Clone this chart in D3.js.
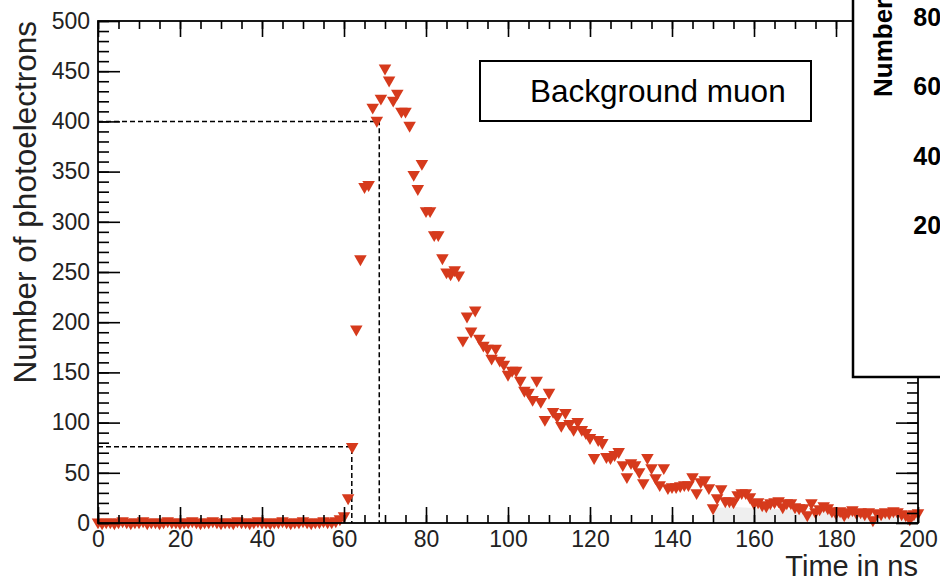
<!DOCTYPE html>
<html>
<head>
<meta charset="utf-8">
<script src="https://cdn.jsdelivr.net/npm/d3@7"></script>
<style>
  body { margin: 0; background: #fff; }
  svg { display: block; font-family: "Liberation Sans", Arial, Helvetica, sans-serif; }
</style>
</head>
<body>
<div id="chart"></div>
<script>
const FRAME_WIDTH = 940;
const FRAME_HEIGHT = 579;
const MARGINS = {left: 98, right: 22, top: 21, bottom: 56};
const VIS_WIDTH = FRAME_WIDTH - MARGINS.left - MARGINS.right;
const VIS_HEIGHT = FRAME_HEIGHT - MARGINS.top - MARGINS.bottom;

// one sample per ns, 0..200 ns
const TIMES = d3.range(0, 201);
const PE_COUNTS = [
  1, 0, 1, 1, 0, 1, 2, 1, 0, 1,
  1, 2, 0, 1, 1, 0, 1, 2, 1, 1,
  0, 1, 1, 2, 1, 0, 1, 1, 2, 1,
  0, 1, 1, 0, 2, 1, 1, 0, 1, 2,
  1, 1, 0, 1, 1, 2, 1, 0, 1, 1,
  2, 1, 0, 1, 1, 2, 1, 1, 2, 4,
  7, 25, 76, 193, 263, 335, 337, 414, 401, 423,
  453, 441, 421, 428, 410, 410, 396, 347, 333, 358,
  311, 311, 287, 287, 264, 250, 248, 252, 247, 182,
  206, 191, 212, 184, 177, 174, 164, 174, 162, 158,
  148, 152, 152, 142, 132, 130, 123, 142, 121, 103,
  130, 111, 106, 97, 110, 99, 93, 101, 93, 90,
  85, 65, 83, 80, 66, 65, 68, 71, 58, 46,
  60, 58, 51, 40, 65, 55, 45, 38, 55, 35,
  36, 36, 37, 38, 38, 46, 30, 41, 43, 35,
  15, 25, 34, 22, 22, 21, 28, 30, 30, 26,
  20, 21, 18, 17, 20, 21, 22, 16, 20, 20,
  16, 15, 15, 8, 20, 11, 14, 17, 15, 12,
  10, 12, 8, 11, 13, 10, 11, 9, 11, 3,
  10, 9, 11, 10, 12, 11, 9, 8, 4, 9,
  10
];

// light grey band under the tail
const BAND_TIMES = [150, 155, 160, 165, 170, 175, 180, 185, 190, 195, 200];
const BAND_VALUES = [15, 16, 15, 14, 13, 12, 12, 11, 10, 9, 9];

// dashed guide lines (time, level)
const CUT_TIMES = [61.9, 68.6];
const CUT_LEVELS = [76, 400];

const X_TICKS = d3.range(0, 201, 20);
const X_MINOR = d3.range(0, 201, 5);
const Y_TICKS = d3.range(0, 501, 50);
const Y_MINOR = d3.range(0, 501, 10);

const LEGEND_LABEL = "Background muon";
const X_TITLE = "Time in ns";
const Y_TITLE = "Number of photoelectrons";

// overlapping inset panel (cut off at the right edge)
const INSET_TICKS = [0, 200, 400, 600, 800];
const INSET_TITLE = "Number of events";

const MARKER_COLOR = "#d63a1c";

const FRAME = d3.select("#chart")
  .append("svg")
    .attr("width", FRAME_WIDTH)
    .attr("height", FRAME_HEIGHT);

const X_SCALE = d3.scaleLinear().domain([0, 200]).range([0, VIS_WIDTH]);
const Y_SCALE = d3.scaleLinear().domain([0, 500]).range([VIS_HEIGHT, 0]);

const PLOT = FRAME.append("g")
  .attr("transform", "translate(" + MARGINS.left + "," + MARGINS.top + ")");

// grey band
PLOT.append("path")
  .datum(BAND_TIMES.map((t, i) => [t, BAND_VALUES[i]]))
  .attr("fill", "#efefef")
  .attr("d", d3.area()
    .x(d => X_SCALE(d[0]))
    .y0(Y_SCALE(0))
    .y1(d => Y_SCALE(d[1])));

// dashed guides
CUT_TIMES.forEach((t, i) => {
  PLOT.append("path")
    .attr("fill", "none")
    .attr("stroke", "#000")
    .attr("stroke-width", 1.5)
    .attr("stroke-dasharray", "5,3")
    .attr("d", d3.line()([
      [X_SCALE(0), Y_SCALE(CUT_LEVELS[i])],
      [X_SCALE(t), Y_SCALE(CUT_LEVELS[i])],
      [X_SCALE(t), Y_SCALE(0)]
    ]));
});

// points
const TRIANGLE = d3.symbol().type(d3.symbolTriangle).size(68);
PLOT.selectAll(".pt")
  .data(TIMES)
  .enter()
  .append("path")
    .attr("class", "pt")
    .attr("fill", MARKER_COLOR)
    .attr("d", TRIANGLE)
    .attr("transform", (t, i) => "translate(" + X_SCALE(t) + "," + Y_SCALE(PE_COUNTS[i]) + ") rotate(180)");

// axes, ticks pointing inward like ROOT
function styleAxis(g, fontSize) {
  g.select(".domain").remove();
  g.selectAll(".tick line").attr("stroke", "#000").attr("stroke-width", 1.6);
  g.attr("font-size", fontSize).attr("font-family", null);
  g.selectAll(".tick text").attr("fill", "#222");
}

PLOT.append("g")
  .attr("transform", "translate(0," + VIS_HEIGHT + ")")
  .call(d3.axisBottom(X_SCALE).tickValues(X_MINOR).tickSize(-8).tickFormat(""))
  .call(g => styleAxis(g, 23));
PLOT.append("g")
  .attr("transform", "translate(0," + VIS_HEIGHT + ")")
  .call(d3.axisBottom(X_SCALE).tickValues(X_TICKS).tickSize(-16).tickPadding(8))
  .call(g => styleAxis(g, 23));

PLOT.append("g")
  .call(d3.axisTop(X_SCALE).tickValues(X_MINOR).tickSize(-8).tickFormat(""))
  .call(g => styleAxis(g, 23));
PLOT.append("g")
  .call(d3.axisTop(X_SCALE).tickValues(X_TICKS).tickSize(-16).tickFormat(""))
  .call(g => styleAxis(g, 23));

PLOT.append("g")
  .call(d3.axisLeft(Y_SCALE).tickValues(Y_MINOR).tickSize(-11).tickFormat(""))
  .call(g => styleAxis(g, 23));
PLOT.append("g")
  .call(d3.axisLeft(Y_SCALE).tickValues(Y_TICKS).tickSize(-22).tickPadding(8))
  .call(g => styleAxis(g, 23));

PLOT.append("g")
  .attr("transform", "translate(" + VIS_WIDTH + ",0)")
  .call(d3.axisRight(Y_SCALE).tickValues(Y_MINOR).tickSize(-11).tickFormat(""))
  .call(g => styleAxis(g, 23));
PLOT.append("g")
  .attr("transform", "translate(" + VIS_WIDTH + ",0)")
  .call(d3.axisRight(Y_SCALE).tickValues(Y_TICKS).tickSize(-22).tickFormat(""))
  .call(g => styleAxis(g, 23));

// frame
PLOT.append("rect")
  .attr("width", VIS_WIDTH)
  .attr("height", VIS_HEIGHT)
  .attr("fill", "none")
  .attr("stroke", "#000")
  .attr("stroke-width", 1.8);

// axis titles
FRAME.append("text")
  .attr("x", MARGINS.left + VIS_WIDTH)
  .attr("y", 576)
  .attr("text-anchor", "end")
  .attr("font-size", 29)
  .attr("fill", "#222")
  .text(X_TITLE);

FRAME.append("text")
  .attr("transform", "translate(36," + MARGINS.top + ") rotate(-90)")
  .attr("text-anchor", "end")
  .attr("font-size", 31.5)
  .attr("fill", "#222")
  .text(Y_TITLE);

// legend
FRAME.append("rect")
  .attr("x", 480).attr("y", 61)
  .attr("width", 331).attr("height", 60)
  .attr("fill", "#fff")
  .attr("stroke", "#000")
  .attr("stroke-width", 2);
FRAME.append("text")
  .attr("x", 530).attr("y", 102)
  .attr("font-size", 31.5)
  .attr("fill", "#000")
  .text(LEGEND_LABEL);

// inset panel, mostly outside the picture
const INSET = FRAME.append("g");
INSET.append("rect")
  .attr("x", 853).attr("y", -10)
  .attr("width", 300).attr("height", 387)
  .attr("fill", "#fff")
  .attr("stroke", "#000")
  .attr("stroke-width", 2.5);

const INSET_Y = d3.scaleLinear().domain([0, 800]).range([295, 16.7]);
INSET.selectAll(".inset-label")
  .data(INSET_TICKS)
  .enter()
  .append("text")
    .attr("class", "inset-label")
    .attr("x", 955)
    .attr("y", d => INSET_Y(d))
    .attr("dy", "0.36em")
    .attr("text-anchor", "end")
    .attr("font-size", 25)
    .attr("font-weight", "bold")
    .text(d => d);

INSET.append("text")
  .attr("transform", "translate(892,97) rotate(-90)")
  .attr("font-size", 26)
  .attr("font-weight", "bold")
  .text(INSET_TITLE);
</script>
</body>
</html>
